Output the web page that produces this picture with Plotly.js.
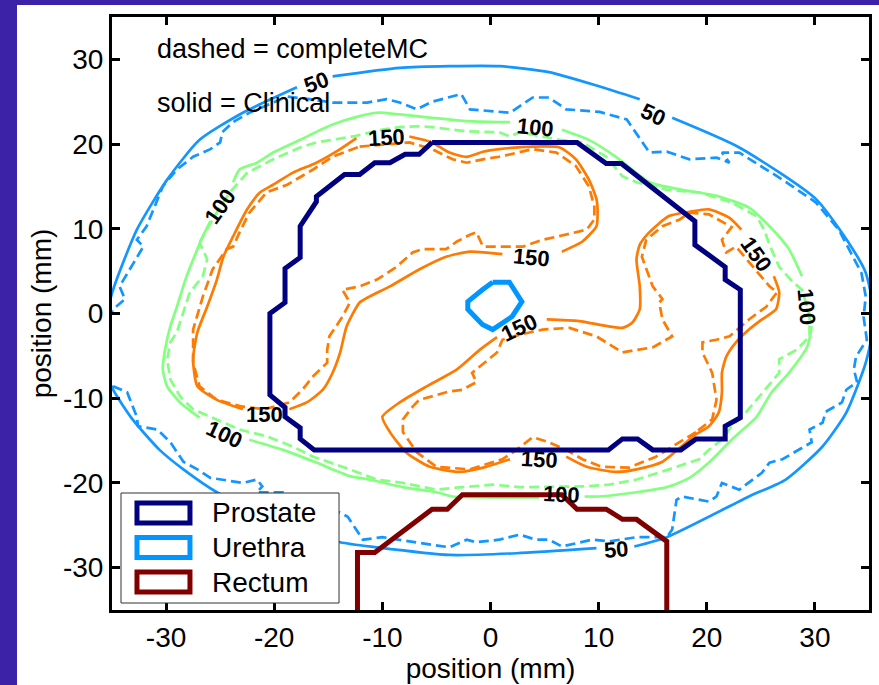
<!DOCTYPE html>
<html><head><meta charset="utf-8">
<script src="https://cdn.plot.ly/plotly-3.0.1.min.js"></script>
<style>html,body{margin:0;padding:0;background:#fff}</style>
</head><body>
<div id="chart" style="width:879px;height:685px"></div>
<script>
// ---------- data (mm) ----------
const tickVals = [-30, -20, -10, 0, 10, 20, 30];
const tickText = ['-30', '-20', '-10', '0', '10', '20', '30'];

// 50 isodose, Clinical (solid)
const iso50SolidX = [-36.1,-34.9,-32.7,-29.9,-26.9,-22.9,-17.9,null,-14.6,-8.4,-3.8,0.8,5.4,10.1,13.8,null,16.8,23.0,30.1,33.4,34.7,35.5,34.7,32.9,30.7,27.3,23.9,16.3,13.3,null,9.8,2.4,-3.8,-10.5,-13.9,-19.5,-25.3,-28.4,-30.6,-33.1,-34.9,-36.1,-36.1];
const iso50SolidY = [-3.1,2.8,9.9,15.8,20.5,23.7,26.7,null,28.0,29.0,29.2,29.2,28.5,26.8,25.3,null,23.1,19.6,13.5,7.8,4.8,-0.5,-5.8,-11.7,-15.7,-19.6,-21.6,-26.4,-27.5,null,-27.7,-28.3,-28.5,-27.6,-27.0,-24.6,-21.1,-18.4,-16.1,-12.5,-9.0,-5.4,-3.1];
// 50 isodose, completeMC (dashed)
const iso50DashX = [-36.5,-34.9,-33.8,-34.3,-32.1,-32.7,-31.8,-30.3,-29.0,-27.5,-25.9,-25.0,-24.8,-23.8,-22.3,-18.8,-16.7,-14.6,-11.4,-9.6,-8.4,-6.8,-5.4,-3.5,-2.7,-1.9,1.8,3.9,5.4,7.0,10.1,12.6,14.7,16.3,18.4,20.9,22.1,21.4,23.0,27.0,30.1,32.2,34.3,34.7,34.5,34.8,33.8,33.6,33.9,32.9,32.5,31.0,30.7,29.5,29.7,27.0,25.8,25.1,23.9,23.0,21.4,20.9,20.2,17.7,17.2,16.8,16.3,13.5,11.0,9.4,6.6,5.4,4.2,2.7,0.8,-1.3,-2.2,-3.8,-5.4,-10.0,-11.8,-12.4,-13.2,-13.9,-17.6,-19.2,-21.6,-21.1,-21.6,-22.9,-25.9,-27.1,-28.4,-29.6,-30.8,-32.6,-32.7,-33.6,-34.9,-36.5];
const iso50DashY = [-3.9,0.5,1.7,3.2,7.9,8.7,10.3,15.0,17.0,18.5,19.4,20.2,21.4,22.6,23.7,25.6,25.3,24.9,24.9,25.3,24.9,24.1,25.0,25.6,25.9,24.1,23.7,25.5,25.5,24.1,23.8,22.9,19.0,19.1,18.2,18.4,17.8,19.0,19.0,15.8,13.1,9.9,4.8,2.0,-0.4,-3.1,-5.1,-6.6,-8.1,-9.0,-10.5,-11.6,-12.9,-13.7,-15.2,-17.2,-17.6,-18.8,-20.0,-20.8,-20.0,-21.6,-22.2,-21.6,-22.0,-25.5,-26.4,-26.4,-26.9,-26.7,-27.5,-26.7,-26.7,-26.1,-26.7,-27.0,-26.7,-27.6,-27.3,-26.4,-26.7,-25.5,-24.0,-23.5,-22.0,-21.1,-21.1,-20.4,-19.6,-20.0,-19.4,-18.4,-17.5,-15.2,-13.7,-13.3,-12.2,-9.3,-8.6,-3.9];

// 100 isodose, Clinical (solid)
const iso100SolidX = [-23.8,-23.2,-21.6,-20.1,-17.6,-14.6,-12.1,-10.5,-8.4,-5.4,-2.2,0.8,1.8,null,6.6,9.1,11.6,14.7,17.7,20.9,23.9,25.8,27.6,28.8,null,29.7,29.3,27.6,26.0,24.6,22.3,20.2,18.4,16.3,13.5,10.1,8.7,null,4.5,0.8,-3.5,-5.0,-8.1,-11.2,-13.0,-16.1,-19.2,-22.3,null,-26.9,-28.7,-29.9,-30.3,-30.1,-29.6,-29.0,-28.1,-27.1,-26.6,-25.9];
const iso100SolidY = [15.5,17.0,17.8,19.0,20.5,22.3,23.3,23.7,23.5,23.1,22.7,22.6,22.6,null,21.7,20.5,18.5,15.5,14.6,13.9,12.5,10.3,7.6,4.4,null,-1.5,-3.9,-7.0,-9.3,-12.2,-14.9,-17.6,-19.4,-20.5,-21.1,-21.6,-21.6,null,-21.7,-21.7,-21.6,-21.1,-20.5,-19.6,-19.2,-17.6,-16.1,-14.9,null,-12.3,-10.5,-8.6,-6.6,-4.3,-1.5,0.8,4.4,7.6,9.1,10.9];
// 100 isodose, completeMC (dashed)
const iso100DashX = [-26.9,-25.9,-25.0,-24.1,-22.5,-20.1,-17.6,-16.1,-14.6,-12.7,-10.0,-8.4,-6.8,-5.4,-2.2,0.8,1.8,2.7,6.4,8.5,10.7,12.2,13.5,16.3,19.3,22.3,24.6,25.3,25.8,26.7,27.9,28.8,29.5,29.5,28.3,26.7,26.7,25.8,24.8,23.6,22.3,21.4,20.2,19.3,16.5,13.5,11.0,8.9,2.7,0.2,-2.6,-5.0,-8.1,-10.5,-13.0,-16.4,-18.3,-20.7,-23.2,-25.9,-27.5,-28.7,-29.6,-29.9,-29.6,-29.0,-28.4,-27.8,-26.6,-26.2,-26.9];
const iso100DashY = [8.4,10.7,12.6,14.3,16.6,18.2,19.6,20.2,20.5,20.9,21.7,22.0,22.1,22.0,21.5,21.4,20.9,21.4,20.5,20.2,18.5,16.2,15.5,14.6,14.3,13.1,11.5,9.9,8.1,5.5,3.8,2.8,-0.1,-2.7,-4.3,-5.4,-7.0,-8.4,-9.9,-11.7,-13.3,-14.9,-16.1,-17.2,-18.4,-19.6,-20.2,-20.4,-20.5,-20.2,-20.5,-20.8,-20.0,-19.6,-18.4,-16.9,-15.7,-14.5,-13.7,-12.2,-11.3,-9.8,-7.8,-5.4,-3.4,-2.2,0.1,2.5,4.4,6.4,8.4];

// 150 isodose, Clinical (solid) - two closed regions
const iso150SolidX = [
  -7.5,-5.4,-3.8,-2.2,-0.7,0.8,3.9,6.4,7.9,9.1,9.8,9.9,9.8,8.5,6.6,null,
  1.1,-1.9,-4.1,-6.6,-9.3,-11.2,-12.1,-13.3,-13.9,-14.6,-15.5,-17.0,-18.6,null,
  -22.9,-25.3,-27.1,-27.5,-27.1,-26.2,-25.3,-24.7,-23.8,-22.5,-21.3,-20.1,-18.3,-16.1,-13.9,-12.4,null,
  7.0,8.9,11.6,13.5,15.9,18.1,18.7,20.2,21.1,21.4,21.4,21.8,22.7,23.9,25.1,26.4,26.7,26.2,null,
  23.2,22.1,20.2,18.4,16.5,14.7,13.8,13.5,13.8,13.8,13.1,12.2,8.2,5.2,null,
  0.6,-1.0,-3.1,-5.9,-8.4,-10.0,-9.3,-7.8,-5.6,-2.9,-0.4,1.8];
const iso150SolidY = [
  20.9,20.2,19.0,18.5,19.1,19.4,19.7,19.6,18.2,15.8,13.5,11.5,10.3,8.5,7.3,null,
  7.0,7.3,6.7,5.2,3.2,2.0,1.3,-1.5,-4.6,-7.0,-9.0,-10.5,-11.3,null,
  -11.3,-10.2,-8.6,-5.4,-2.2,0.8,4.0,6.7,9.1,12.3,14.3,15.2,16.6,17.8,19.4,20.7,null,
  -16.9,-18.1,-18.7,-18.4,-17.5,-15.2,-14.5,-13.3,-11.7,-9.3,-7.0,-5.1,-3.4,-1.9,-0.7,0.5,2.5,4.4,null,
  9.9,11.3,12.3,12.0,11.5,9.6,8.1,6.4,3.2,0.5,-1.1,-1.7,-0.9,-0.7,null,
  -2.8,-4.3,-6.6,-8.6,-10.5,-12.2,-14.0,-16.4,-18.1,-18.7,-18.1,-17.2];
// 150 isodose, completeMC (dashed)
const iso150DashX = [
  -12.1,-9.6,-7.5,-5.4,-3.5,-2.2,-0.7,0.8,3.9,6.1,7.9,9.1,9.6,9.6,8.9,6.6,4.8,3.0,0.6,-0.7,-1.3,-1.9,-3.1,-4.1,-6.3,-7.2,-8.7,-10.5,-12.1,-13.7,-13.0,-13.7,-14.9,-15.1,-15.1,-16.4,-17.4,-18.6,-20.9,-22.9,-25.3,-26.9,-27.5,-27.5,-26.6,-25.7,-24.4,-23.8,-23.2,-22.3,-20.7,-18.8,-16.4,-14.6,-12.1,null,
  19.0,17.5,15.3,12.8,10.3,8.5,7.0,5.4,3.9,2.4,1.1,-1.9,-5.0,-6.8,-8.1,-8.1,-7.2,-6.6,-3.8,-2.6,-1.3,-1.7,-0.1,0.6,1.1,2.7,4.8,7.3,9.8,12.2,13.5,15.0,16.8,15.9,15.6,15.9,15.0,14.4,14.0,14.4,15.9,17.5,18.4,20.2,22.3,21.4,21.8,22.7,24.8,25.8,26.5,25.5,23.9,22.1,20.9,19.6,19.6,20.5,20.9,20.5,19.0];
const iso150DashY = [
  19.7,20.0,20.2,19.4,18.2,17.8,18.2,18.5,19.4,19.0,17.4,15.0,12.6,11.1,9.9,9.2,8.7,7.9,7.9,7.9,9.6,9.3,8.5,7.6,7.6,7.2,5.5,4.0,3.2,2.8,1.3,-0.4,-2.7,-4.3,-5.8,-7.4,-9.0,-10.5,-11.3,-11.0,-10.2,-8.6,-5.8,-1.9,2.0,5.2,7.6,7.9,9.6,11.9,14.3,15.2,17.0,18.5,19.7,null,
  -14.0,-15.2,-16.9,-18.2,-18.1,-17.2,-16.1,-15.2,-14.6,-16.1,-17.2,-18.4,-18.1,-16.4,-14.0,-12.5,-11.0,-10.2,-9.2,-9.0,-8.1,-7.0,-5.4,-4.6,-3.1,-2.5,-1.9,-1.7,-2.7,-4.6,-4.3,-4.0,-2.7,-0.7,1.3,1.7,3.2,5.2,6.7,8.7,10.3,11.1,11.9,11.7,10.2,8.7,7.2,7.9,4.8,3.2,2.5,0.8,-0.7,-2.7,-3.1,-3.4,-4.6,-7.0,-10.2,-12.5,-14.0];

// structures
const prostateX = [-5.4,8.0,10.7,12.1,18.9,18.9,21.7,21.7,23.1,23.1,21.7,21.7,19.0,17.6,15.0,13.6,12.2,10.9,-16.3,-17.6,-17.6,-19.0,-19.0,-20.4,-20.4,-19.0,-19.0,-17.6,-17.6,-16.1,-16.1,-13.5,-12.1,-10.7,-9.3,-7.9,-6.6,-5.4];
const prostateY = [20.2,20.2,17.7,17.7,10.9,8.1,5.5,4.0,2.8,-12.3,-13.3,-14.8,-14.8,-16.1,-16.1,-14.8,-14.8,-16.1,-16.1,-14.8,-13.5,-12.2,-11.1,-9.6,0.0,1.3,5.3,6.6,10.3,13.2,13.8,16.4,16.4,17.8,17.8,18.8,18.8,20.2];
const urethraX = [0.2,1.75,2.9,2.0,0.2,-0.75,-2.1,-2.1,-0.75,0.2];
const urethraY = [3.7,3.7,1.4,-0.35,-1.9,-1.3,0.5,1.4,2.8,3.7];
const rectumX = [-12.3,-12.3,-10.7,-5.4,-4.0,-2.6,6.6,8.0,10.7,12.2,13.5,16.3,16.3];
const rectumY = [-35,-28.2,-28.2,-23.1,-23.1,-21.4,-21.4,-23.1,-23.1,-24.3,-24.3,-26.9,-35];

const structNames = ['Prostate', 'Urethra', 'Rectum'];
const structColors = ['#000080', '#0096FF', '#800000'];

// contour labels
const labelText = ['50','50','50','100','100','100','100','100','150','150','150','150','150','150'];
const labelX = [-16.1,15.0,11.6,-25.0,4.2,29.2,-24.6,6.6,-9.6,-20.9,3.8,2.7,4.5,24.6];
const labelY = [27.3,23.5,-27.9,12.6,22.0,0.8,-14.3,-21.4,20.8,-11.9,6.6,-1.7,-17.2,7.0];
const labelAngle = [-20,25,-5,-55,6,85,25,3,-3,0,5,-25,3,55];

// ---------- drawing ----------
const cBlue = '#1496FF', cGreen = '#84FF80', cOrange = '#FF7A00';
const dashPat = '10px,5px';
function iso(x, y, color, dashed) {
  return {type:'scatter', mode:'lines', x:x, y:y, hoverinfo:'skip', showlegend:false,
          line:{color:color, width:2.7, dash: dashed ? dashPat : 'solid',
                shape: dashed ? 'linear' : 'spline', smoothing: dashed ? undefined : 0.6}};
}
const traces = [
  iso(iso50DashX, iso50DashY, cBlue, true),
  iso(iso50SolidX, iso50SolidY, cBlue, false),
  iso(iso100DashX, iso100DashY, cGreen, true),
  iso(iso100SolidX, iso100SolidY, cGreen, false),
  iso(iso150DashX, iso150DashY, cOrange, true),
  iso(iso150SolidX, iso150SolidY, cOrange, false)
];
const structXs = [prostateX, urethraX, rectumX];
const structYs = [prostateY, urethraY, rectumY];
structNames.forEach((n, i) => traces.push({type:'scatter', mode:'lines', name:n,
  x:structXs[i], y:structYs[i], hoverinfo:'skip', showlegend:false,
  line:{color:structColors[i], width:5}}));

const FONT = 'Liberation Sans, Arial, Helvetica, sans-serif';
const annotations = labelText.map((t, i) => ({
  x:labelX[i], y:labelY[i], xref:'x', yref:'y', text:t, showarrow:false,
  textangle:labelAngle[i], font:{family:FONT, size:22, color:'#000', weight:'bold'}
}));
annotations.push({x:-31.0, y:31.2, xref:'x', yref:'y', xanchor:'left', yanchor:'middle',
  text:'dashed = completeMC', showarrow:false, font:{family:FONT, size:27, color:'#000'}});
annotations.push({x:-31.0, y:24.9, xref:'x', yref:'y', xanchor:'left', yanchor:'middle',
  text:'solid = Clinical', showarrow:false, font:{family:FONT, size:27, color:'#000'}});

const purple = '#3B22A6';
const shapes = [
  {type:'rect', xref:'paper', yref:'paper', x0:-0.2, x1:1.1, y0:1.0202, y1:1.05, fillcolor:purple, line:{width:0}, layer:'above'},
  {type:'rect', xref:'paper', yref:'paper', x0:-0.2, x1:-0.1255, y0:-0.2, y1:1.05, fillcolor:purple, line:{width:0}, layer:'above'},
  // legend box
  {type:'rect', xref:'paper', yref:'paper', x0:0.0119, x1:0.2999, y0:0.0118, y1:0.1973, fillcolor:'#ffffff', line:{color:'#333333', width:1}, layer:'above'}
];
structNames.forEach((n, i) => {
  const yc = 0.1636 - i * 0.0582;
  shapes.push({type:'rect', xref:'paper', yref:'paper', x0:0.033, x1:0.103, y0:yc - 0.017, y1:yc + 0.017,
    fillcolor:'rgba(255,255,255,0)', line:{color:structColors[i], width:5}, layer:'above'});
  annotations.push({xref:'paper', yref:'paper', x:0.1295, y:yc, xanchor:'left', yanchor:'middle',
    text:n, showarrow:false, font:{family:FONT, size:28, color:'#000'}});
});

const axisCommon = {
  range:[-35, 35], tickvals:tickVals, ticktext:tickText, ticks:'inside', ticklen:8, tickwidth:3,
  tickcolor:'#000', showline:true, linewidth:3, linecolor:'#000', mirror:'ticks',
  showgrid:false, zeroline:false, fixedrange:true, tickfont:{family:FONT, size:28, color:'#000'}
};
const layout = {
  width:879, height:685,
  margin:{l:112, r:10, t:17, b:75},
  paper_bgcolor:'#ffffff', plot_bgcolor:'#ffffff',
  showlegend:false,
  font:{family:FONT, color:'#000'},
  xaxis:Object.assign({}, axisCommon, {title:{text:'position (mm)', font:{family:FONT, size:28, color:'#000'}, standoff:0}}),
  yaxis:Object.assign({}, axisCommon, {title:{text:'position (mm)', font:{family:FONT, size:28, color:'#000'}, standoff:4}}),
  shapes:shapes,
  annotations:annotations
};
Plotly.newPlot('chart', traces, layout, {staticPlot:true, displayModeBar:false});
</script>
</body></html>
